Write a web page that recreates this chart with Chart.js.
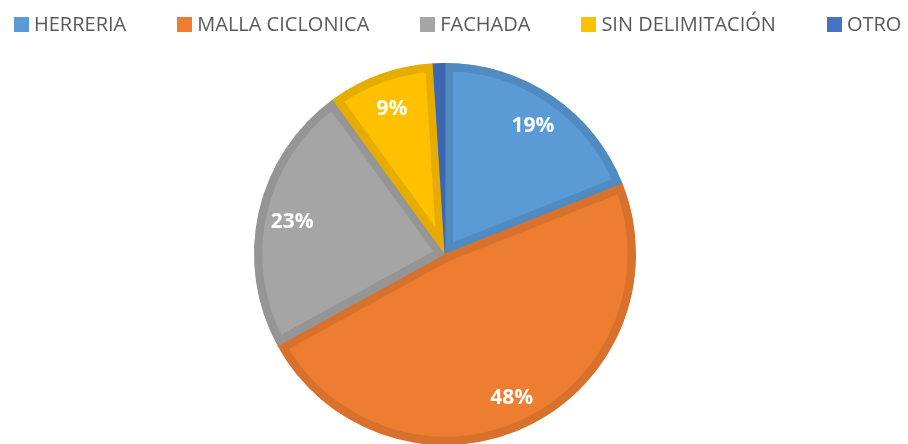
<!DOCTYPE html>
<html>
<head>
<meta charset="utf-8">
<script src="https://cdn.jsdelivr.net/npm/chart.js@4"></script>
<style>
  html, body { margin: 0; padding: 0; background: #fff; }
  #wrap { position: relative; width: 908px; height: 444px; overflow: hidden; }
  #pie { position: absolute; left: 0; top: 0; }
  #legend {
    position: absolute; left: 14px; top: 11px;
    display: flex; gap: 51px; white-space: nowrap;
    font-family: "Open Sans", sans-serif; font-size: 20px; color: #595959;
  }
  #legend .item { display: flex; align-items: center; line-height: 26px; }
  #legend .box { width: 15px; height: 15px; margin-right: 5px; }
</style>
</head>
<body>
<div id="wrap">
  <canvas id="pie" width="908" height="444"></canvas>
  <div id="legend"></div>
</div>
<script>
// Categorías y valores (%)
const categorias = ["HERRERIA", "MALLA CICLONICA", "FACHADA", "SIN DELIMITACIÓN", "OTRO"];
const porcentajes = [19, 48, 23, 9, 1];

// Colores de relleno y de borde
const colores = ["#5B9BD5", "#ED7D31", "#A5A5A5", "#FFC000", "#4472C4"];
const bordes = ["#4F8AC0", "#D7712C", "#959595", "#E6AD00", "#3D67B1"];

// Leyenda
const legend = document.getElementById("legend");
categorias.forEach((cat, i) => {
  const item = document.createElement("div");
  item.className = "item";
  item.innerHTML = `<span class="box" style="background:${colores[i]}"></span><span>${cat}</span>`;
  legend.appendChild(item);
});

// Etiquetas de porcentaje dentro de cada rebanada
const etiquetas = {
  id: "etiquetas",
  afterDatasetsDraw(chart) {
    const ctx = chart.ctx;
    const meta = chart.getDatasetMeta(0);
    ctx.save();
    ctx.font = "bold 21px 'Open Sans', sans-serif";
    ctx.fillStyle = "#fff";
    ctx.textAlign = "center";
    ctx.textBaseline = "middle";
    meta.data.forEach((arc, i) => {
      const v = porcentajes[i];
      if (v < 2) return;
      const p = arc.getProps(["x", "y", "startAngle", "endAngle", "outerRadius"], true);
      const mid = (p.startAngle + p.endAngle) / 2;
      const r = p.outerRadius * 0.82;
      ctx.fillText(v + "%", p.x + Math.cos(mid) * r, p.y + Math.sin(mid) * r + 2);
    });
    ctx.restore();
  },
};

const pieCtx = document.getElementById("pie").getContext("2d");
new Chart(pieCtx, {
  type: "pie",
  data: {
    labels: categorias,
    datasets: [
      {
        data: porcentajes,
        backgroundColor: colores,
        borderColor: bordes,
        borderWidth: 8,
        borderAlign: "inner",
      },
    ],
  },
  options: {
    responsive: false,
    animation: false,
    radius: 191,
    layout: { padding: { left: 0, right: 18, top: 64, bottom: 0 } },
    plugins: {
      legend: { display: false },
      tooltip: { enabled: false },
    },
  },
  plugins: [etiquetas],
});
</script>
</body>
</html>
